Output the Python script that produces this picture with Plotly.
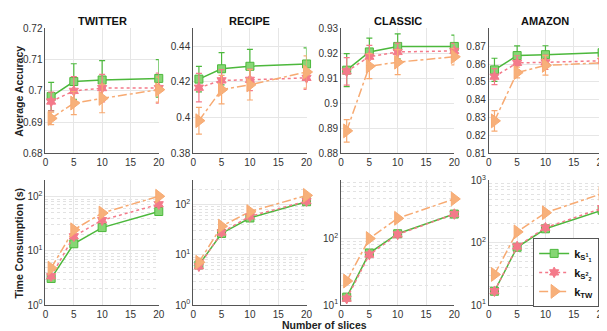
import plotly.graph_objects as go
from plotly.subplots import make_subplots

FONT = "Liberation Sans, Arial, sans-serif"

DATASETS = ["TWITTER", "RECIPE", "CLASSIC", "AMAZON"]
SLICES = [1, 5, 10, 20]

# average accuracy (mean, error) per dataset
ACC_KS1 = [
    [0.6982, 0.7030, 0.7035, 0.7040],
    [0.4216, 0.4274, 0.4288, 0.4301],
    [0.9133, 0.9206, 0.9228, 0.9228],
    [0.8568, 0.8648, 0.8653, 0.8664],
]
ERR_KS1 = [
    [0.0045, 0.0057, 0.0062, 0.0060],
    [0.0072, 0.0090, 0.0095, 0.0090],
    [0.0066, 0.0055, 0.0050, 0.0045],
    [0.0065, 0.0054, 0.0050, 0.0060],
]
ACC_KS2 = [
    [0.6966, 0.7000, 0.7009, 0.7009],
    [0.4168, 0.4209, 0.4212, 0.4223],
    [0.9128, 0.9187, 0.9206, 0.9210],
    [0.8530, 0.8607, 0.8610, 0.8619],
]
ERR_KS2 = [
    [0.0030, 0.0046, 0.0044, 0.0048],
    [0.0080, 0.0060, 0.0060, 0.0065],
    [0.0055, 0.0045, 0.0035, 0.0030],
    [0.0045, 0.0040, 0.0040, 0.0040],
]
ACC_KTW = [
    [0.6912, 0.6961, 0.6976, 0.7004],
    [0.3983, 0.4157, 0.4184, 0.4256],
    [0.8890, 0.9149, 0.9165, 0.9187],
    [0.8282, 0.8553, 0.8593, 0.8607],
]
ERR_KTW = [
    [0.0020, 0.0037, 0.0046, 0.0040],
    [0.0075, 0.0080, 0.0085, 0.0090],
    [0.0045, 0.0050, 0.0050, 0.0033],
    [0.0057, 0.0030, 0.0055, 0.0045],
]

# time consumption (s)
TIME_KS1 = [
    [3.1, 13.5, 26.8, 53],
    [6.3, 26.5, 53.8, 113],
    [13.2, 60.6, 118, 233],
    [16.7, 84.5, 167, 331],
]
TIME_KS2 = [
    [3.4, 18.5, 36.7, 72],
    [5.9, 27.7, 58, 116],
    [12.5, 57.4, 115, 233],
    [16.7, 87, 174, 357],
]
TIME_KTW = [
    [4.8, 24.4, 49.7, 101],
    [7.1, 37, 72, 151],
    [23, 100, 201, 393],
    [31, 149, 302, 611],
]

ACC_RANGES = [[0.68, 0.72], [0.38, 0.45], [0.88, 0.93], [0.81, 0.88]]
ACC_TICKS = [
    [0.68, 0.69, 0.70, 0.71, 0.72],
    [0.38, 0.40, 0.42, 0.44],
    [0.88, 0.89, 0.90, 0.91, 0.92, 0.93],
    [0.81, 0.82, 0.83, 0.84, 0.85, 0.86, 0.87],
]
ACC_TICKTEXT = [
    ["0.68", "0.69", "0.7", "0.71", "0.72"],
    ["0.38", "0.4", "0.42", "0.44"],
    ["0.88", "0.89", "0.9", "0.91", "0.92", "0.93"],
    ["0.81", "0.82", "0.83", "0.84", "0.85", "0.86", "0.87"],
]
TIME_RANGES = [[0, 2.3], [0, 2.48], [1, 2.875], [1, 3]]
LOG_LABELS = {"1": "10<sup>0</sup>", "10": "10<sup>1</sup>",
              "100": "10<sup>2</sup>", "1000": "10<sup>3</sup>"}

SERIES = [
    {"name": "<b>k<sub>S<sup>1</sup><sub>1</sub></sub></b>", "color": "#4cb83c",
     "fill": "#86d674", "symbol": "square", "size": 8, "dash": "solid"},
    {"name": "<b>k<sub>S<sup>2</sup><sub>2</sub></sub></b>", "color": "#f47a8a",
     "fill": "#f47a8a", "symbol": "hexagram", "size": 8, "dash": "dot"},
    {"name": "<b>k<sub>TW</sub></b>", "color": "#f7aa72",
     "fill": "#f7b07a", "symbol": "triangle-right", "size": 12, "dash": "dashdot"},
]

fig = make_subplots(rows=2, cols=4)

col_domains = [[35, 150], [185, 300], [335, 450], [485, 600]]
W, H = 607, 331
top_dom = [1 - 144 / H, 1 - 14 / H]
bot_dom = [1 - 302 / H, 1 - 172 / H]

acc = [ACC_KS1, ACC_KS2, ACC_KTW]
err = [ERR_KS1, ERR_KS2, ERR_KTW]
tim = [TIME_KS1, TIME_KS2, TIME_KTW]

for c in range(4):
    for s, st in enumerate(SERIES):
        fig.add_trace(go.Scatter(
            x=SLICES, y=acc[s][c],
            mode="lines+markers",
            line=dict(color=st["color"], width=1.5, dash=st["dash"]),
            marker=dict(symbol=st["symbol"], size=st["size"], color=st["fill"],
                        line=dict(color=st["color"], width=1)),
            error_y=dict(type="data", array=err[s][c], color=st["color"],
                         thickness=1.2, width=3),
            cliponaxis=False,
            showlegend=False,
        ), row=1, col=c + 1)
        fig.add_trace(go.Scatter(
            x=SLICES, y=tim[s][c],
            mode="lines+markers",
            name=st["name"],
            line=dict(color=st["color"], width=1.5, dash=st["dash"]),
            marker=dict(symbol=st["symbol"], size=st["size"], color=st["fill"],
                        line=dict(color=st["color"], width=1)),
            cliponaxis=False,
            showlegend=(c == 3),
        ), row=2, col=c + 1)

axis_common = dict(
    showline=True, linecolor="#555555", linewidth=1,
    ticks="", showgrid=True, gridcolor="#e6e6e6", gridwidth=1,
    zeroline=False, tickfont=dict(size=10, color="#333333", family=FONT),
)

for c in range(4):
    d = [col_domains[c][0] / W, col_domains[c][1] / W]
    for r in (1, 2):
        fig.update_xaxes(domain=d, range=[0, 20], tickmode="array",
                         tickvals=[0, 5, 10, 15, 20],
                         **axis_common, row=r, col=c + 1)
    fig.update_yaxes(domain=top_dom, range=ACC_RANGES[c], tickmode="array",
                     tickvals=ACC_TICKS[c], ticktext=ACC_TICKTEXT[c],
                     **axis_common, row=1, col=c + 1)
    fig.update_yaxes(domain=bot_dom, type="log", range=TIME_RANGES[c],
                     dtick=1, labelalias=LOG_LABELS,
                     minor=dict(showgrid=True, gridcolor="#e2e2e2", griddash="dot",
                                gridwidth=1, dtick="D1", ticks=""),
                     **axis_common, row=2, col=c + 1)

annotations = []
for c, name in enumerate(DATASETS):
    xm = (col_domains[c][0] + col_domains[c][1]) / 2 / W
    annotations.append(dict(text="<b>%s</b>" % name, x=xm, y=1 - 6 / H, xref="paper", yref="paper",
                            showarrow=False, font=dict(size=11, color="#111111", family=FONT),
                            xanchor="center", yanchor="middle"))
annotations.append(dict(text="<b>Average Accuracy</b>", x=8 / W, y=(top_dom[0] + top_dom[1]) / 2,
                        xref="paper", yref="paper", textangle=-90, showarrow=False,
                        font=dict(size=10.5, color="#222222", family=FONT),
                        xanchor="center", yanchor="middle"))
annotations.append(dict(text="<b>Time Consumption (s)</b>", x=8 / W, y=(bot_dom[0] + bot_dom[1]) / 2,
                        xref="paper", yref="paper", textangle=-90, showarrow=False,
                        font=dict(size=10.5, color="#222222", family=FONT),
                        xanchor="center", yanchor="middle"))
annotations.append(dict(text="<b>Number of slices</b>", x=318 / W, y=1 - 323 / H,
                        xref="paper", yref="paper", showarrow=False,
                        font=dict(size=10.5, color="#222222", family=FONT),
                        xanchor="center", yanchor="middle"))

fig.update_layout(
    width=W, height=H,
    margin=dict(l=0, r=0, t=0, b=0),
    paper_bgcolor="white", plot_bgcolor="white",
    font=dict(family=FONT, size=10, color="#333333"),
    annotations=annotations,
    legend=dict(x=597 / W, y=1 - 232 / H, xanchor="right", yanchor="top",
                bordercolor="#555555", borderwidth=1, bgcolor="white",
                font=dict(size=11, color="#111111", family=FONT),
                tracegroupgap=0, itemwidth=30),
)

fig.write_html("out.html")
